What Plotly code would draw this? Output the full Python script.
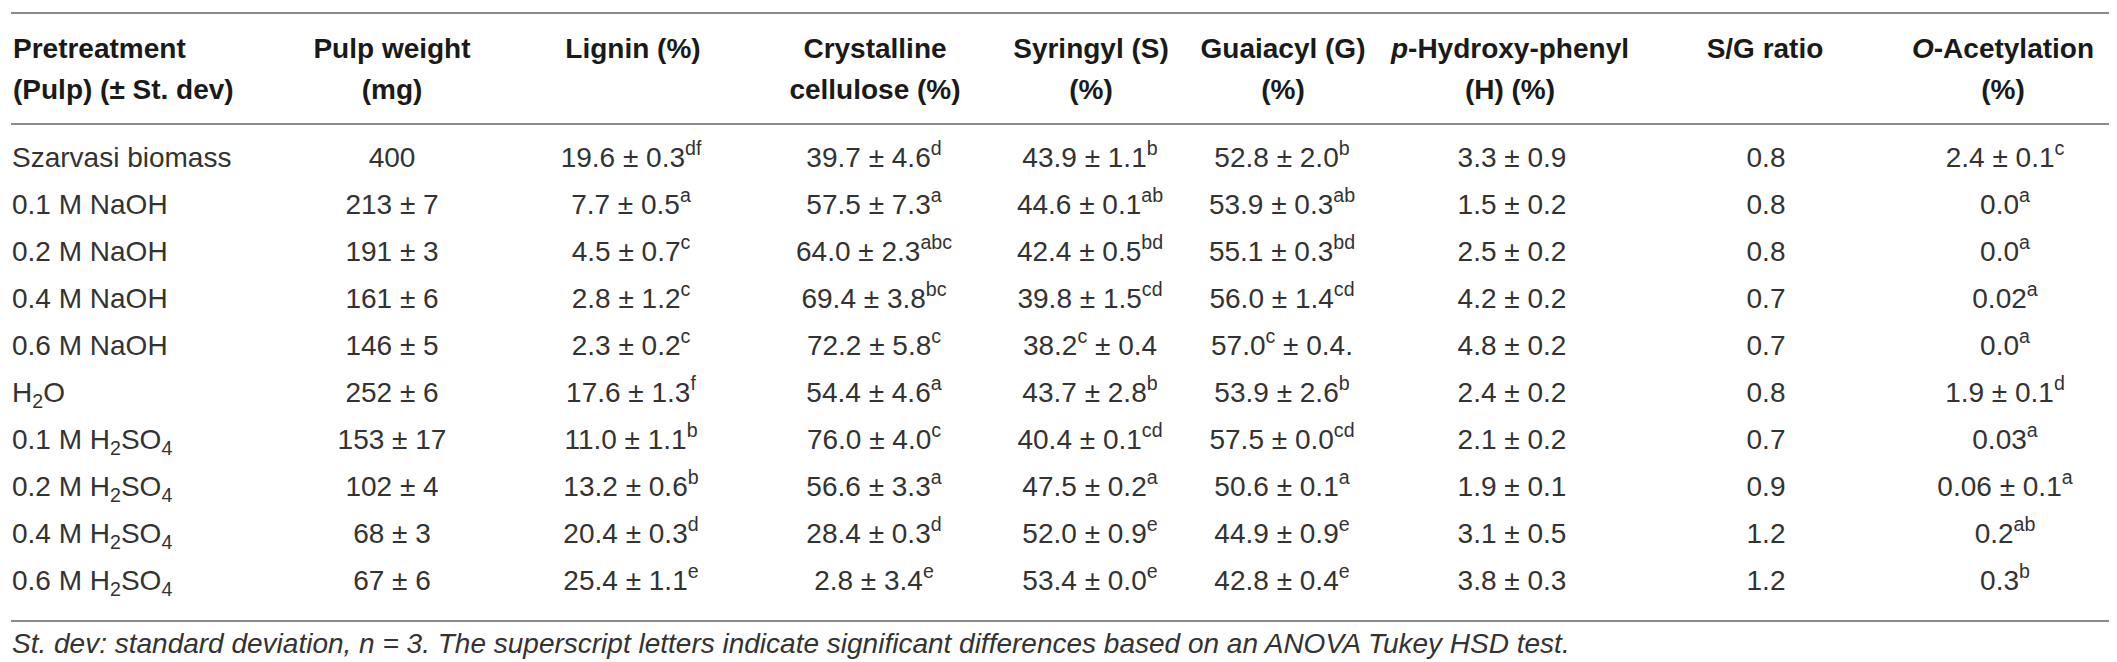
import plotly.graph_objects as go

# ---------------- data ----------------
pretreatment = ["Szarvasi biomass", "0.1 M NaOH", "0.2 M NaOH", "0.4 M NaOH", "0.6 M NaOH",
                "H<sub>2</sub>O", "0.1 M H<sub>2</sub>SO<sub>4</sub>", "0.2 M H<sub>2</sub>SO<sub>4</sub>",
                "0.4 M H<sub>2</sub>SO<sub>4</sub>", "0.6 M H<sub>2</sub>SO<sub>4</sub>"]
pulp_weight = ["400", "213 ± 7", "191 ± 3", "161 ± 6", "146 ± 5", "252 ± 6", "153 ± 17",
               "102 ± 4", "68 ± 3", "67 ± 6"]
lignin = ["19.6 ± 0.3<sup>df</sup>", "7.7 ± 0.5<sup>a</sup>", "4.5 ± 0.7<sup>c</sup>",
          "2.8 ± 1.2<sup>c</sup>", "2.3 ± 0.2<sup>c</sup>", "17.6 ± 1.3<sup>f</sup>",
          "11.0 ± 1.1<sup>b</sup>", "13.2 ± 0.6<sup>b</sup>", "20.4 ± 0.3<sup>d</sup>",
          "25.4 ± 1.1<sup>e</sup>"]
crystalline = ["39.7 ± 4.6<sup>d</sup>", "57.5 ± 7.3<sup>a</sup>", "64.0 ± 2.3<sup>abc</sup>",
               "69.4 ± 3.8<sup>bc</sup>", "72.2 ± 5.8<sup>c</sup>", "54.4 ± 4.6<sup>a</sup>",
               "76.0 ± 4.0<sup>c</sup>", "56.6 ± 3.3<sup>a</sup>", "28.4 ± 0.3<sup>d</sup>",
               "2.8 ± 3.4<sup>e</sup>"]
syringyl = ["43.9 ± 1.1<sup>b</sup>", "44.6 ± 0.1<sup>ab</sup>", "42.4 ± 0.5<sup>bd</sup>",
            "39.8 ± 1.5<sup>cd</sup>", "38.2<sup>c</sup> ± 0.4", "43.7 ± 2.8<sup>b</sup>",
            "40.4 ± 0.1<sup>cd</sup>", "47.5 ± 0.2<sup>a</sup>", "52.0 ± 0.9<sup>e</sup>",
            "53.4 ± 0.0<sup>e</sup>"]
guaiacyl = ["52.8 ± 2.0<sup>b</sup>", "53.9 ± 0.3<sup>ab</sup>", "55.1 ± 0.3<sup>bd</sup>",
            "56.0 ± 1.4<sup>cd</sup>", "57.0<sup>c</sup> ± 0.4.", "53.9 ± 2.6<sup>b</sup>",
            "57.5 ± 0.0<sup>cd</sup>", "50.6 ± 0.1<sup>a</sup>", "44.9 ± 0.9<sup>e</sup>",
            "42.8 ± 0.4<sup>e</sup>"]
hydroxyphenyl = ["3.3 ± 0.9", "1.5 ± 0.2", "2.5 ± 0.2", "4.2 ± 0.2", "4.8 ± 0.2",
                 "2.4 ± 0.2", "2.1 ± 0.2", "1.9 ± 0.1", "3.1 ± 0.5", "3.8 ± 0.3"]
sg_ratio = ["0.8", "0.8", "0.8", "0.7", "0.7", "0.8", "0.7", "0.9", "1.2", "1.2"]
acetylation = ["2.4 ± 0.1<sup>c</sup>", "0.0<sup>a</sup>", "0.0<sup>a</sup>", "0.02<sup>a</sup>",
               "0.0<sup>a</sup>", "1.9 ± 0.1<sup>d</sup>", "0.03<sup>a</sup>",
               "0.06 ± 0.1<sup>a</sup>", "0.2<sup>ab</sup>", "0.3<sup>b</sup>"]

header_line1 = ["Pretreatment", "Pulp weight", "Lignin (%)", "Crystalline", "Syringyl (S)",
                "Guaiacyl (G)", "<i>p</i>-Hydroxy-phenyl", "S/G ratio", "<i>O</i>-Acetylation"]
header_line2 = ["(Pulp) (± St. dev)", "(mg)", "", "cellulose (%)", "(%)", "(%)", "(H) (%)", "", "(%)"]

footnote = ("St. dev: standard deviation, <i>n</i> = 3. The superscript letters indicate "
            "significant differences based on an ANOVA Tukey HSD test.")

columns = [pretreatment, pulp_weight, lignin, crystalline, syringyl, guaiacyl,
           hydroxyphenyl, sg_ratio, acetylation]

# ---------------- layout constants (pixels) ----------------
W, H = 2117, 662
ROW0_PX, ROW_H = 152.0, 47.0
def py(px):
    return (px - ROW0_PX) / ROW_H

col_x_data = [4, 384, 623, 866, 1082, 1274, 1504, 1758, 1997]
col_x_head = [5, 384, 625, 867, 1083, 1275, 1502, 1757, 1995]

TXT = "#333333"
RULE = "#8a8a8a"
FONT = "Liberation Sans, Arial, sans-serif"
DATA_SIZE = 28
HEAD_SIZE = 28

fig = go.Figure()
rows = list(range(len(pretreatment)))

for i, col in enumerate(columns):
    fig.add_trace(go.Scatter(
        x=[col_x_data[i]] * len(col), y=rows, text=col, mode="text",
        textposition="middle right" if i == 0 else "middle center",
        textfont=dict(family=FONT, size=DATA_SIZE, color=TXT),
        hoverinfo="skip", showlegend=False))

for line_txt, ypx in ((header_line1, 42.5), (header_line2, 84.0)):
    xs = [col_x_head[i] for i, t in enumerate(line_txt) if t]
    ts = ["<b>" + t + "</b>" for t in line_txt if t]
    pos = ["middle right" if x == col_x_head[0] else "middle center" for x in xs]
    fig.add_trace(go.Scatter(
        x=xs, y=[py(ypx)] * len(xs), text=ts, mode="text", textposition=pos,
        textfont=dict(family=FONT, size=HEAD_SIZE, color="#1a1a1a"),
        hoverinfo="skip", showlegend=False))

fig.add_trace(go.Scatter(
    x=[4], y=[py(638)], text=["<i>" + footnote + "</i>"], mode="text",
    textposition="middle right",
    textfont=dict(family=FONT, size=28, color=TXT),
    hoverinfo="skip", showlegend=False))

for rpx in (5, 116, 613):
    fig.add_shape(type="line", xref="x", yref="y", x0=3, x1=2112, y0=py(rpx), y1=py(rpx),
                  line=dict(color=RULE, width=2))

fig.update_layout(
    width=W, height=H, margin=dict(l=0, r=0, t=0, b=0),
    paper_bgcolor="white", plot_bgcolor="white",
    xaxis=dict(range=[0, W], visible=False, fixedrange=True),
    yaxis=dict(range=[py(H), py(0)], visible=False, fixedrange=True),
)

fig.write_html("out.html")
